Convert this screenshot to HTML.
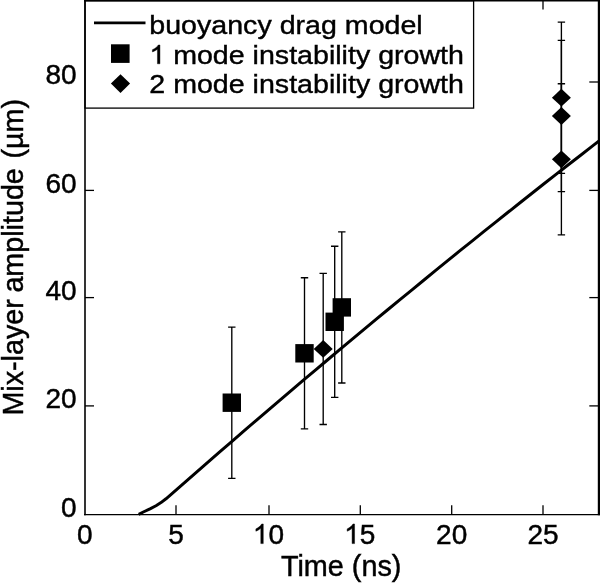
<!DOCTYPE html><html><head><meta charset="utf-8"><style>html,body{margin:0;padding:0;background:#fff;overflow:hidden}svg{display:block;filter:grayscale(1)}text{font-family:"Liberation Sans",sans-serif;fill:#000;stroke:#000;stroke-width:0.45}</style></head><body>
<svg width="600" height="583" viewBox="0 0 600 583">
<rect width="600" height="583" fill="#fff"/>
<path d="M138.7,514.3L143.3,512.0L150.0,508.9L156.0,505.7L161.0,502.6L166.0,498.8L172.0,493.6L184.0,483.1L196.0,472.6L208.0,462.1L220.0,451.7L232.0,441.3L244.0,430.9L256.0,420.6L268.0,410.3L280.0,400.1L292.0,389.9L304.0,379.7L316.0,369.6L328.0,359.5L340.0,349.4L352.0,339.4L364.0,329.4L376.0,319.4L388.0,309.5L400.0,299.6L412.0,289.8L424.0,280.0L436.0,270.2L448.0,260.4L460.0,250.7L472.0,241.1L484.0,231.4L496.0,221.8L508.0,212.3L520.0,202.8L532.0,193.3L544.0,183.8L556.0,174.4L568.0,165.0L580.0,155.7L592.0,146.4L600.0,140.2" fill="none" stroke="#000" stroke-width="3.0" stroke-linejoin="round"/>
<path d="M231.8,327.1V478.3M228.1,327.1h7.4M228.1,478.3h7.4" stroke="#000" stroke-width="1.35" fill="none"/>
<path d="M304.5,277.7V428.9M300.8,277.7h7.4M300.8,428.9h7.4" stroke="#000" stroke-width="1.35" fill="none"/>
<path d="M334.7,246.2V397.4M331.0,246.2h7.4M331.0,397.4h7.4" stroke="#000" stroke-width="1.35" fill="none"/>
<path d="M341.8,231.8V383.0M338.1,231.8h7.4M338.1,383.0h7.4" stroke="#000" stroke-width="1.35" fill="none"/>
<path d="M323.2,273.3V424.5M319.5,273.3h7.4M319.5,424.5h7.4" stroke="#000" stroke-width="1.35" fill="none"/>
<path d="M561.4,22.1V173.3M557.7,22.1h7.4M557.7,173.3h7.4" stroke="#000" stroke-width="1.35" fill="none"/>
<path d="M561.4,40.4V191.6M557.7,40.4h7.4M557.7,191.6h7.4" stroke="#000" stroke-width="1.35" fill="none"/>
<path d="M561.4,83.7V234.9M557.7,83.7h7.4M557.7,234.9h7.4" stroke="#000" stroke-width="1.35" fill="none"/>
<rect x="222.6" y="393.5" width="18.4" height="18.4" fill="#000"/>
<rect x="295.3" y="344.1" width="18.4" height="18.4" fill="#000"/>
<rect x="325.5" y="312.6" width="18.4" height="18.4" fill="#000"/>
<rect x="332.6" y="298.2" width="18.4" height="18.4" fill="#000"/>
<path d="M323.2,340.0L332.7,348.9L323.2,357.8L313.7,348.9Z" fill="#000"/>
<path d="M561.4,88.8L570.9,97.7L561.4,106.6L551.9,97.7Z" fill="#000"/>
<path d="M561.4,107.1L570.9,116.0L561.4,124.9L551.9,116.0Z" fill="#000"/>
<path d="M561.4,150.4L570.9,159.3L561.4,168.2L551.9,159.3Z" fill="#000"/>
<rect x="85" y="0.7" width="388.6" height="107.4" fill="#fff" stroke="#000" stroke-width="1.3"/>
<path d="M94,22.8H145.5" stroke="#000" stroke-width="2.7"/>
<rect x="111.0" y="44.3" width="18.6" height="18.6" fill="#000"/>
<path d="M120.5,74.2L130.1,83.6L120.5,93.0L110.9,83.6Z" fill="#000"/>
<text transform="translate(149.30,33.9) scale(1,0.93)" font-size="28.6">buoyancy drag model</text>
<path transform="translate(149.30,63.8) scale(0.01396,-0.01279)" d="M763 0L583 0L583 1147Q518 1085 412.5 1023Q307 961 223 930L223 1104Q374 1175 487 1276Q600 1377 647 1472L763 1472Z" fill="#000" stroke="#000" stroke-width="32" stroke-linejoin="round"/>
<text transform="translate(173.15,63.8) scale(1,0.93)" font-size="28.6">mode instability growth</text>
<text transform="translate(149.30,93.4) scale(1,0.93)" font-size="28.6">2 mode instability growth</text>
<path d="M85,0V515.3" stroke="#000" stroke-width="1.6"/>
<path d="M84,514.6H600" stroke="#000" stroke-width="1.4"/>
<path d="M599,0V515.3" stroke="#000" stroke-width="2.4"/>
<path d="M84,0.7H600" stroke="#000" stroke-width="1.4"/>
<path d="M176.0,514.3V505.3" stroke="#000" stroke-width="1.3"/>
<path d="M269.0,514.3V505.3" stroke="#000" stroke-width="1.3"/>
<path d="M360.3,514.3V505.3" stroke="#000" stroke-width="1.3"/>
<path d="M451.7,514.3V505.3" stroke="#000" stroke-width="1.3"/>
<path d="M543.0,514.3V505.3" stroke="#000" stroke-width="1.3"/>
<path d="M543.0,0V9.6" stroke="#000" stroke-width="1.3"/>
<path d="M85,405.9H94" stroke="#000" stroke-width="1.3"/>
<path d="M598,405.9H589.3" stroke="#000" stroke-width="1.3"/>
<path d="M85,297.6H94" stroke="#000" stroke-width="1.3"/>
<path d="M598,297.6H589.3" stroke="#000" stroke-width="1.3"/>
<path d="M85,190.4H94" stroke="#000" stroke-width="1.3"/>
<path d="M598,190.4H589.3" stroke="#000" stroke-width="1.3"/>
<path d="M598,82.0H589.3" stroke="#000" stroke-width="1.3"/>
<text x="84.9" y="543.6" font-size="28.0" text-anchor="middle">0</text>
<text x="176.0" y="543.6" font-size="28.0" text-anchor="middle">5</text>
<text x="451.7" y="543.6" font-size="28.0" text-anchor="middle">20</text>
<text x="543.0" y="543.6" font-size="28.0" text-anchor="middle">25</text>
<path transform="translate(252.83,543.60) scale(0.01367,-0.01333)" d="M763 0L583 0L583 1147Q518 1085 412.5 1023Q307 961 223 930L223 1104Q374 1175 487 1276Q600 1377 647 1472L763 1472Z" fill="#000" stroke="#000" stroke-width="33" stroke-linejoin="round"/>
<text x="268.40" y="543.6" font-size="28.0">0</text>
<path transform="translate(344.13,543.60) scale(0.01367,-0.01333)" d="M763 0L583 0L583 1147Q518 1085 412.5 1023Q307 961 223 930L223 1104Q374 1175 487 1276Q600 1377 647 1472L763 1472Z" fill="#000" stroke="#000" stroke-width="33" stroke-linejoin="round"/>
<text x="359.70" y="543.6" font-size="28.0">5</text>
<text x="76.7" y="516.6" font-size="28.0" text-anchor="end">0</text>
<text x="76.7" y="408.2" font-size="28.0" text-anchor="end">20</text>
<text x="76.7" y="299.9" font-size="28.0" text-anchor="end">40</text>
<text x="76.7" y="192.7" font-size="28.0" text-anchor="end">60</text>
<text x="76.7" y="84.3" font-size="28.0" text-anchor="end">80</text>
<text x="341.2" y="575.8" font-size="28.8" text-anchor="middle">Time (ns)</text>
<text transform="translate(22.6,415.6) rotate(-90)" font-size="28.7">Mix-layer</text>
<text transform="translate(22.6,292.6) rotate(-90)" font-size="28.7">amplitude</text>
<text transform="translate(22.6,158.5) rotate(-90)" font-size="28.7">(µm)</text>
</svg></body></html>
